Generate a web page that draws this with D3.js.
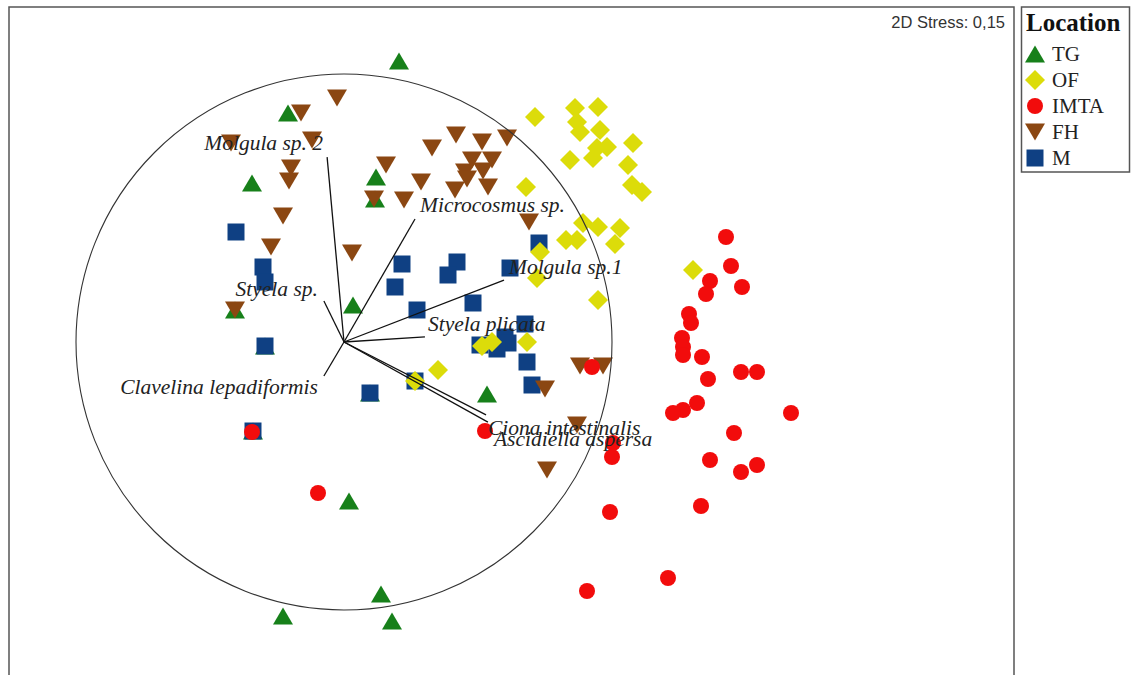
<!DOCTYPE html>
<html>
<head>
<meta charset="utf-8">
<script src="https://cdn.jsdelivr.net/npm/d3@7"></script>
<style>
  body { margin: 0; background: #ffffff; }
  svg { display: block; }
</style>
</head>
<body>
<svg id="chart" width="1132" height="675"></svg>
<script>
// NMDS ordination scores (axis 1, axis 2) per sampling location
const tgPoints = [
  [0.275, 1.405], [-0.28, 1.145], [-0.46, 0.795], [0.16, 0.825], [0.155, 0.715],
  [0.045, 0.185], [-0.545, 0.16], [0.715, -0.26], [0.025, -0.795], [0.185, -1.26],
  [-0.305, -1.37], [0.24, -1.395], [-0.395, -0.02], [0.13, -0.255], [-0.455, -0.445]
];
const ofPoints = [
  [0.955, 1.125], [1.155, 1.17], [1.27, 1.175], [1.165, 1.10], [1.18, 1.05],
  [1.28, 1.06], [1.445, 0.995], [1.265, 0.97], [1.315, 0.975], [1.245, 0.92],
  [1.13, 0.91], [1.42, 0.885], [1.44, 0.785], [1.49, 0.75], [0.91, 0.775],
  [1.195, 0.595], [1.27, 0.575], [1.38, 0.57], [1.11, 0.51], [1.165, 0.51],
  [1.355, 0.49], [0.98, 0.45], [1.745, 0.36], [0.965, 0.32], [1.27, 0.21],
  [0.915, 0.0], [0.69, -0.02], [0.74, 0.0], [0.47, -0.14], [0.355, -0.195]
];
const imtaPoints = [
  [1.91, 0.525], [1.935, 0.38], [1.83, 0.305], [1.99, 0.275], [1.81, 0.24],
  [1.725, 0.14], [1.735, 0.095], [1.69, 0.02], [1.695, -0.025], [1.695, -0.065],
  [1.79, -0.075], [1.82, -0.185], [1.985, -0.15], [2.065, -0.15], [1.765, -0.305],
  [1.695, -0.34], [1.645, -0.355], [2.235, -0.355], [1.95, -0.455], [1.83, -0.59],
  [1.985, -0.65], [2.065, -0.615], [1.785, -0.82], [1.33, -0.85], [1.34, -0.575],
  [1.345, -0.505], [1.24, -0.125], [0.705, -0.445], [-0.13, -0.755], [-0.46, -0.45],
  [1.215, -1.245], [1.62, -1.18]
];
const fhPoints = [
  [-0.035, 1.22], [-0.215, 1.145], [-0.16, 1.01], [-0.565, 0.995], [-0.265, 0.87],
  [-0.275, 0.805], [-0.305, 0.63], [-0.365, 0.475], [0.04, 0.445], [-0.545, 0.16],
  [0.21, 0.885], [0.15, 0.715], [0.30, 0.71], [0.44, 0.97], [0.56, 1.035],
  [0.69, 1.00], [0.815, 1.02], [0.385, 0.80], [0.64, 0.91], [0.74, 0.91],
  [0.605, 0.85], [0.695, 0.855], [0.615, 0.815], [0.555, 0.76], [0.72, 0.775],
  [0.925, 0.60], [1.18, -0.12], [1.295, -0.12], [1.005, -0.235], [1.165, -0.415],
  [1.015, -0.64]
];
const mPoints = [
  [-0.54, 0.55], [-0.405, 0.375], [-0.395, 0.30], [0.29, 0.39], [0.565, 0.40],
  [0.52, 0.335], [0.255, 0.275], [0.83, 0.37], [0.975, 0.495], [0.365, 0.16],
  [0.645, 0.195], [-0.395, -0.02], [0.13, -0.255], [0.355, -0.195], [0.905, 0.09],
  [0.805, 0.025], [0.82, -0.005], [0.765, -0.035], [0.68, -0.015], [0.915, -0.10],
  [0.94, -0.215], [-0.455, -0.445]
];

// Legend entries (in legend order)
const locations = ["TG", "OF", "IMTA", "FH", "M"];

// Species vectors: Pearson correlations with the two NMDS axes
const speciesNames = [
  "Molgula sp. 2", "Microcosmus sp.", "Molgula sp.1", "Styela plicata",
  "Styela sp.", "Clavelina lepadiformis", "Ciona intestinalis", "Ascidiella aspersa"
];
const corrAxis1 = [-0.063, 0.265, 0.597, 0.302, -0.075, -0.075, 0.530, 0.537];
const corrAxis2 = [0.690, 0.459, 0.231, 0.019, 0.153, -0.127, -0.272, -0.299];

const stressText = "2D Stress: 0,15";
const legendTitle = "Location";

// ---- layout ----
const W = 1132, H = 675;
const frame = { left: 9, top: 7, right: 1014, bottom: 677 };
const circleRadius = 1.34;   // unit correlation circle, in ordination units

const x = d3.scaleLinear().domain([-1.675, 3.35]).range([frame.left, frame.right]);
const y = d3.scaleLinear().domain([-1.675, 1.675]).range([frame.bottom, frame.top]);

const colors = {
  TG: "#17801a",
  OF: "#dcdc0a",
  IMTA: "#f20c0c",
  FH: "#8b4712",
  M: "#0f4083"
};

// marker shapes, centred on the point
const shapes = {
  TG: "M0,-8.5L10,8.5L-10,8.5Z",
  OF: "M0,-10L10,0L0,10L-10,0Z",
  IMTA: d3.symbol(d3.symbolCircle, Math.PI * 8 * 8)(),
  FH: "M-10,-8.5L10,-8.5L0,8.5Z",
  M: "M-8.5,-8.5H8.5V8.5H-8.5Z"
};

const svg = d3.select("#chart");

svg.append("rect").attr("width", W).attr("height", H).attr("fill", "#fff");

// plot frame
svg.append("rect")
  .attr("x", frame.left).attr("y", frame.top)
  .attr("width", frame.right - frame.left)
  .attr("height", H + 20 - frame.top)
  .attr("fill", "none")
  .attr("stroke", "#555")
  .attr("stroke-width", 1.5);

const plot = svg.append("g");

const pointSets = { TG: tgPoints, OF: ofPoints, IMTA: imtaPoints, FH: fhPoints, M: mPoints };
const drawOrder = ["TG", "M", "FH", "OF", "IMTA"];

drawOrder.forEach(key => {
  plot.append("g")
    .selectAll("path")
    .data(pointSets[key])
    .join("path")
    .attr("d", shapes[key])
    .attr("transform", d => `translate(${x(d[0])},${y(d[1])})`)
    .attr("fill", colors[key]);
});

// correlation circle
const cx0 = x(0), cy0 = y(0);
plot.append("circle")
  .attr("cx", cx0).attr("cy", cy0)
  .attr("r", x(circleRadius) - x(0))
  .attr("fill", "none")
  .attr("stroke", "#333")
  .attr("stroke-width", 1.1);

// species vectors
const vectors = speciesNames.map((name, i) => ({
  name,
  ex: x(corrAxis1[i] * circleRadius),
  ey: y(corrAxis2[i] * circleRadius)
}));

// label placement relative to vector tips
const labelPlacement = {
  "Molgula sp. 2": { dx: -4, dy: -7, anchor: "end" },
  "Microcosmus sp.": { dx: 5, dy: -7, anchor: "start" },
  "Molgula sp.1": { dx: 5, dy: -6, anchor: "start" },
  "Styela plicata": { dx: 3, dy: -6, anchor: "start" },
  "Styela sp.": { dx: -6, dy: -5, anchor: "end" },
  "Clavelina lepadiformis": { dx: -6, dy: 18, anchor: "end" },
  "Ciona intestinalis": { dx: 2, dy: 20, anchor: "start" },
  "Ascidiella aspersa": { dx: 6, dy: 24, anchor: "start" }
};

plot.append("g")
  .selectAll("line")
  .data(vectors)
  .join("line")
  .attr("x1", cx0).attr("y1", cy0)
  .attr("x2", d => d.ex).attr("y2", d => d.ey)
  .attr("stroke", "#111")
  .attr("stroke-width", 1.3);

plot.append("g")
  .selectAll("text")
  .data(vectors)
  .join("text")
  .attr("x", d => d.ex + labelPlacement[d.name].dx)
  .attr("y", d => d.ey + labelPlacement[d.name].dy)
  .attr("text-anchor", d => labelPlacement[d.name].anchor)
  .attr("font-family", "'Liberation Serif', 'Times New Roman', serif")
  .attr("font-style", "italic")
  .attr("font-size", 21.5)
  .attr("fill", "#222")
  .text(d => d.name);

// stress annotation
svg.append("text")
  .attr("x", 1005).attr("y", 28)
  .attr("text-anchor", "end")
  .attr("font-family", "'Liberation Sans', Arial, sans-serif")
  .attr("font-size", 16.5)
  .attr("fill", "#333")
  .text(stressText);

// legend
const legend = svg.append("g");
legend.append("rect")
  .attr("x", 1021.5).attr("y", 7)
  .attr("width", 108).attr("height", 165)
  .attr("fill", "#fff")
  .attr("stroke", "#555")
  .attr("stroke-width", 1.5);

legend.append("text")
  .attr("x", 1026).attr("y", 31)
  .attr("font-family", "'Liberation Serif', 'Times New Roman', serif")
  .attr("font-weight", "bold")
  .attr("font-size", 25)
  .attr("fill", "#111")
  .text(legendTitle);

const legendRow = d3.scalePoint().domain(locations).range([54, 158]);

const items = legend.selectAll("g.item")
  .data(locations)
  .join("g")
  .attr("class", "item")
  .attr("transform", d => `translate(1035,${legendRow(d)})`);

items.append("path")
  .attr("d", d => shapes[d])
  .attr("fill", d => colors[d]);

items.append("text")
  .attr("x", 17).attr("y", 7)
  .attr("font-family", "'Liberation Serif', 'Times New Roman', serif")
  .attr("font-size", 21)
  .attr("fill", "#222")
  .text(d => d);
</script>
</body>
</html>
